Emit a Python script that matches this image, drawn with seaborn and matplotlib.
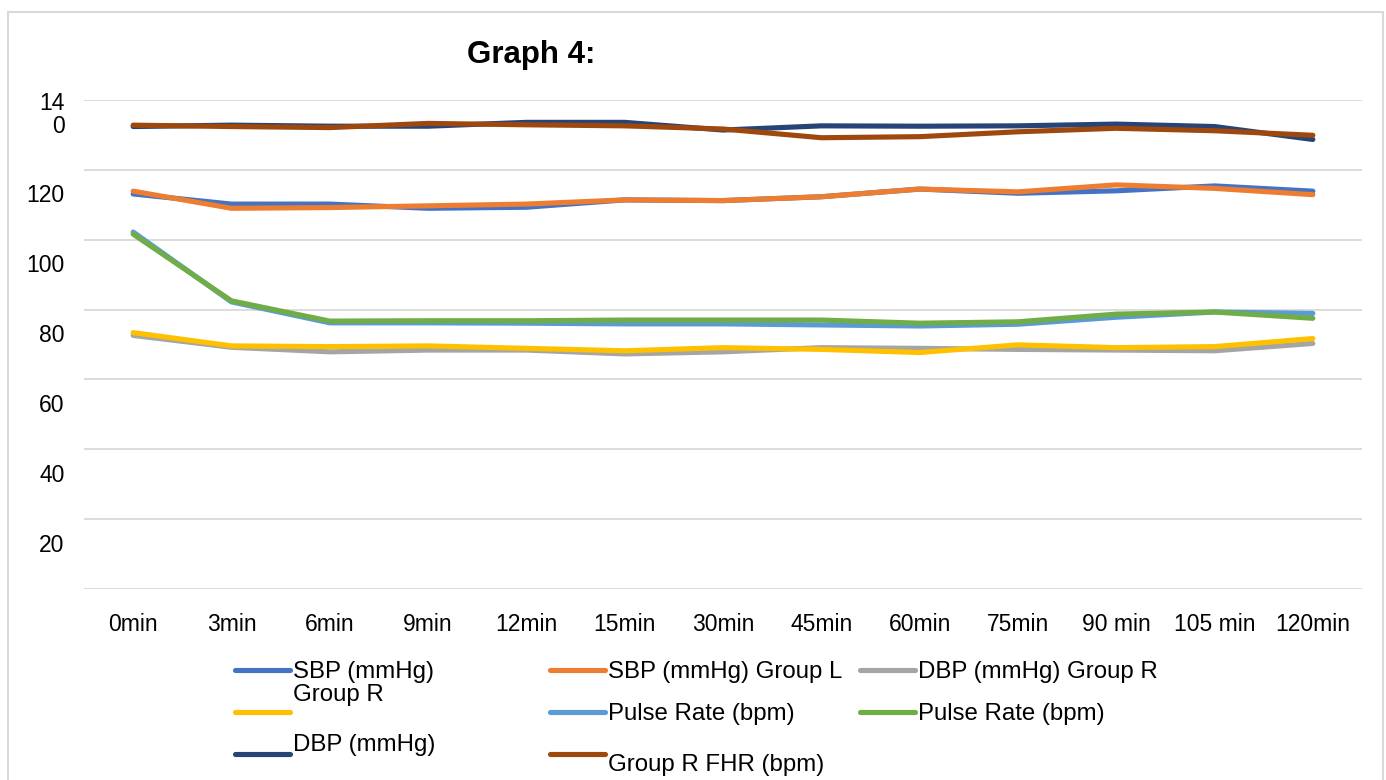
import numpy as np
import pandas as pd
import matplotlib
matplotlib.use("Agg")
import matplotlib.pyplot as plt
import matplotlib.transforms as mtransforms
from matplotlib.legend import Legend
from matplotlib.patches import Rectangle
import seaborn as sns

# ---------------- data ----------------
categories = ["0min", "3min", "6min", "9min", "12min", "15min", "30min", "45min",
              "60min", "75min", "90 min", "105 min", "120min"]

sbp_group_r = [113.1, 110.2, 110.2, 109.0, 109.3, 111.4, 111.2, 112.3, 114.5, 113.3, 114.0, 115.4, 113.9]
sbp_group_l = [113.9, 109.0, 109.2, 109.7, 110.2, 111.4, 111.2, 112.3, 114.5, 113.7, 115.7, 114.7, 112.9]
dbp_group_r = [72.6, 69.2, 67.9, 68.4, 68.4, 67.3, 67.9, 69.1, 68.9, 68.6, 68.4, 68.2, 70.3]
dbp_group_l = [73.4, 69.6, 69.4, 69.6, 68.9, 68.2, 69.1, 68.6, 67.7, 69.9, 69.1, 69.4, 71.7]
pulse_group_r = [102.2, 82.2, 76.2, 76.2, 76.1, 75.9, 75.9, 75.6, 75.3, 75.8, 77.8, 79.3, 78.9]
pulse_group_l = [101.6, 82.5, 76.7, 76.8, 76.8, 77.0, 77.0, 77.0, 76.1, 76.5, 78.7, 79.3, 77.5]
fhr_group_l = [132.4, 132.8, 132.5, 132.5, 133.6, 133.6, 131.4, 132.6, 132.5, 132.6, 133.1, 132.4, 128.7]
fhr_group_r = [132.8, 132.4, 132.1, 133.3, 132.9, 132.6, 131.7, 129.2, 129.5, 130.9, 131.9, 131.2, 129.9]

series_names = ["s1", "s2", "s3", "s4", "s5", "s6", "s7", "s8"]
series_values = [sbp_group_r, sbp_group_l, dbp_group_r, dbp_group_l,
                 pulse_group_r, pulse_group_l, fhr_group_l, fhr_group_r]
legend_labels = ["SBP (mmHg)", "SBP (mmHg) Group L", "DBP (mmHg) Group R", "Group R",
                 "Pulse Rate (bpm)", "Pulse Rate (bpm)", "DBP (mmHg)", "Group R FHR (bpm)"]
colors = ["#4472C4", "#ED7D31", "#A5A5A5", "#FFC000",
          "#5B9BD5", "#70AD47", "#264478", "#9E480E"]

ytick_values = [20, 40, 60, 80, 100, 120, 140]
ytick_labels = ["20", "40", "60", "80", "100", "120", "14\n0"]

# ---------------- build table ----------------
rows = []
for name, vals in zip(series_names, series_values):
    for i, v in enumerate(vals):
        rows.append({"idx": i, "value": v, "series": name})
df = pd.DataFrame(rows)

# ---------------- plot ----------------
sns.set_theme(style="white")
plt.rcParams["font.family"] = ["Liberation Sans", "DejaVu Sans"]

W, H, DPI = 1386, 780, 100
fig = plt.figure(figsize=(W / DPI, H / DPI), dpi=DPI)
ax = fig.add_axes([84 / W, 1 - 589 / H, (1362 - 84) / W, (589 - 100) / H])

sns.lineplot(data=df, x="idx", y="value", hue="series", hue_order=series_names,
             palette=colors, linewidth=3.7, legend=False, sort=False, ax=ax)

ax.set_xlim(-0.5, len(categories) - 0.5)
ax.set_ylim(0, 140)
ax.set_xlabel("")
ax.set_ylabel("")
for s in ax.spines.values():
    s.set_visible(False)

# gridlines at the minor positions
ax.set_yticks(np.arange(0, 141, 20), minor=True)
ax.grid(which="minor", axis="y", color="#D9D9D9", linewidth=1.3)
ax.grid(which="major", visible=False)
ax.tick_params(which="minor", length=0)

# labels (drawn slightly below the gridlines as in the reference)
label_offsets = [6.7] * 6 + [3.7]
ax.set_yticks([v - o for v, o in zip(ytick_values, label_offsets)], ytick_labels)
ax.tick_params(axis="y", which="major", length=0, pad=14, labelsize=16.5, labelcolor="black")
for lab in ax.get_yticklabels():
    lab.set_linespacing(1.0)

ax.set_xticks(range(len(categories)), categories)
ax.tick_params(axis="x", length=0, pad=17, labelsize=16.5, labelcolor="black")

# title
fig.text(531 / W, 1 - 55 / H, "Graph 4:", ha="center", va="center",
         fontsize=22.5, fontweight="bold", color="black")

# chart border
fig.patches.append(Rectangle((8 / W, -0.1), (1383 - 8) / W, 1.1 - 12 / H,
                             transform=fig.transFigure, fill=False,
                             edgecolor="#D9D9D9", linewidth=1.5))

# legend (three columns)
lines = ax.get_lines()[:len(series_names)]
cols = [[0, 3, 6], [1, 4, 7], [2, 5]]
col_x = [235, 550, 860]
legends = []
for cx, idxs in zip(col_x, cols):
    leg = Legend(ax, [lines[i] for i in idxs], [legend_labels[i] for i in idxs],
                 loc="upper left", bbox_to_anchor=(cx / W, 1 - 661 / H),
                 bbox_transform=fig.transFigure, frameon=False, fontsize=17.3,
                 handlelength=2.3, handletextpad=0.1, labelspacing=0.85,
                 borderpad=0, borderaxespad=0)
    for t in leg.get_texts():
        t.set_color("black")
    for h in leg.legend_handles:
        h.set_linewidth(3.7)
    legends.append(leg)
    ax.add_artist(leg)

def shift(text, dy_px):
    text.set_transform(text.get_transform() +
                       mtransforms.ScaledTranslation(0, dy_px / DPI, fig.dpi_scale_trans))

shift(legends[0].get_texts()[1], 19)
shift(legends[0].get_texts()[2], 12)
shift(legends[1].get_texts()[2], -8)

fig.savefig("out.png", dpi=DPI)
